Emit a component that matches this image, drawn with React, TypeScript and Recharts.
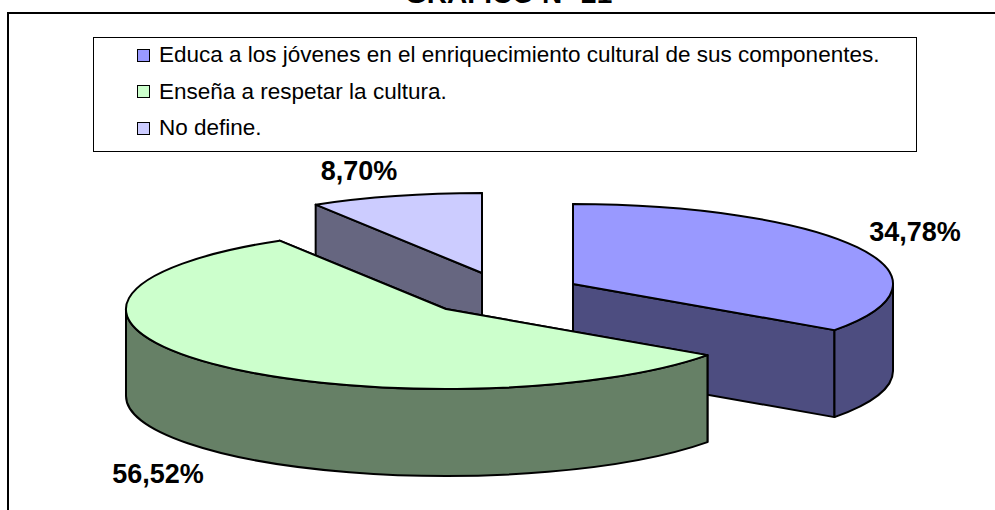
import { Pie, PieChart } from 'recharts';

const CATEGORIES = [
  'Educa a los jóvenes en el enriquecimiento cultural de sus componentes.',
  'Enseña a respetar la cultura.',
  'No define.',
];
const VALUES = [34.78, 56.52, 8.7];
const VALUE_LABELS = ['34,78%', '56,52%', '8,70%'];
const TOP_COLORS = ['#9999FF', '#CCFFCC', '#CCCCFF'];
const SIDE_COLORS = ['#4D4D80', '#668066', '#666680'];

// how far each slice is pulled out of the pie, and where its label sits from there
const EXPLODE = [
  [70, -10],
  [-57, 15],
  [-21, -21],
];
const LABEL_OFFSET = [
  [342, -52],
  [-288, 165],
  [-123, -102],
];

const SQUASH = 0.25;
const DEPTH = 87;
const TOTAL = VALUES.reduce((a, b) => a + b, 0);

// painted back to front: the small slice first, so the angle starts where it starts
const DRAW_ORDER = [2, 0, 1];
const START_ANGLE = 90 + (VALUES[2] / TOTAL) * 360;

const tableData = DRAW_ORDER.map((i) => ({
  index: i,
  name: CATEGORIES[i],
  value: VALUES[i],
  fill: TOP_COLORS[i],
}));

const RAD = Math.PI / 180;

function Slice3D(props: any) {
  const { cx, cy, outerRadius: r, startAngle, endAngle, payload } = props;
  const i = payload.index;
  const cxx = cx + EXPLODE[i][0];
  const cyy = cy + EXPLODE[i][1];
  const ry = r * SQUASH;
  const pt = (a: number) => [cxx + r * Math.cos(a * RAD), cyy - ry * Math.sin(a * RAD)];
  const hi = Math.max(startAngle, endAngle);
  const lo = Math.min(startAngle, endAngle);
  const [sx, sy] = pt(hi);
  const [ex, ey] = pt(lo);
  const large = hi - lo > 180 ? 1 : 0;
  const common = { stroke: '#000', strokeWidth: 2, strokeLinejoin: 'round' as const };

  // the rim only shows on the lower half of the ellipse
  const norm = (a: number) => ((a % 360) + 360) % 360;
  let rim: string | null = null;
  const rimHi = norm(hi) > 180 ? hi : hi - norm(hi);
  const rimSpan = norm(rimHi) === 0 ? 180 : norm(rimHi) - 180;
  const rimLo = Math.max(lo, rimHi - rimSpan);
  if (rimHi > rimLo) {
    const [ax, ay] = pt(rimHi);
    const [bx, by] = pt(rimLo);
    rim = `M${ax},${ay} A${r},${ry} 0 0 1 ${bx},${by} L${bx},${by + DEPTH} A${r},${ry} 0 0 0 ${ax},${ay + DEPTH} Z`;
  }

  const wall = (x: number, y: number) =>
    `M${cxx},${cyy} L${x},${y} L${x},${y + DEPTH} L${cxx},${cyy + DEPTH} Z`;

  return (
    <g>
      <path d={wall(sx, sy)} fill={SIDE_COLORS[i]} {...common} />
      <path d={wall(ex, ey)} fill={SIDE_COLORS[i]} {...common} />
      {rim && <path d={rim} fill={SIDE_COLORS[i]} {...common} />}
      <path
        d={`M${cxx},${cyy} L${sx},${sy} A${r},${ry} 0 ${large} 1 ${ex},${ey} Z`}
        fill={TOP_COLORS[i]}
        {...common}
      />
    </g>
  );
}

function SliceLabel(props: any) {
  const { cx, cy, payload } = props;
  const i = payload.index;
  return (
    <text
      x={cx + EXPLODE[i][0] + LABEL_OFFSET[i][0]}
      y={cy + EXPLODE[i][1] + LABEL_OFFSET[i][1]}
      textAnchor="middle"
      dominantBaseline="central"
      fontFamily="'Liberation Sans', Arial, sans-serif"
      fontWeight="bold"
      fontSize={27}
      fill="#000"
    >
      {VALUE_LABELS[i]}
    </text>
  );
}

function LegendBox() {
  return (
    <div
      style={{
        position: 'absolute',
        left: 93,
        top: 37,
        width: 822,
        height: 113,
        border: '1px solid #000',
        background: '#fff',
        fontFamily: "'Liberation Sans', Arial, sans-serif",
        fontSize: 22.5,
        color: '#000',
      }}
    >
      {CATEGORIES.map((c, i) => (
        <div
          key={c}
          style={{ position: 'absolute', left: 43, top: 2 + i * 36.5, height: 30, display: 'flex', alignItems: 'center', whiteSpace: 'nowrap' }}
        >
          <span
            style={{
              width: 11,
              height: 11,
              border: '1px solid #000',
              background: TOP_COLORS[i],
              marginRight: 9,
              display: 'inline-block',
              flex: 'none',
            }}
          />
          {c}
        </div>
      ))}
    </div>
  );
}

export default function App() {
  return (
    <div style={{ position: 'absolute', left: 0, top: 0, width: 995, height: 510, overflow: 'hidden', background: '#fff' }}>
      <div
        style={{
          position: 'absolute',
          left: 405,
          top: -22,
          whiteSpace: 'nowrap',
          fontFamily: "'Liberation Sans', Arial, sans-serif",
          fontWeight: 'bold',
          fontSize: 28,
          color: '#000',
        }}
      >
        GRAFICO N° 21
      </div>
      <div
        style={{
          position: 'absolute',
          left: 7,
          top: 12,
          width: 1000,
          height: 510,
          border: '2px solid #000',
        }}
      />
      <PieChart width={995} height={510} margin={{ top: 0, right: 0, bottom: 0, left: 0 }} style={{ position: 'absolute', left: 0, top: 0 }}>
        <Pie
          data={tableData}
          dataKey="value"
          nameKey="name"
          cx={503}
          cy={294}
          innerRadius={0}
          outerRadius={320}
          startAngle={START_ANGLE}
          endAngle={START_ANGLE - 360}
          isAnimationActive={false}
          shape={Slice3D}
          label={SliceLabel}
          labelLine={false}
        />
      </PieChart>
      <LegendBox />
    </div>
  );
}
